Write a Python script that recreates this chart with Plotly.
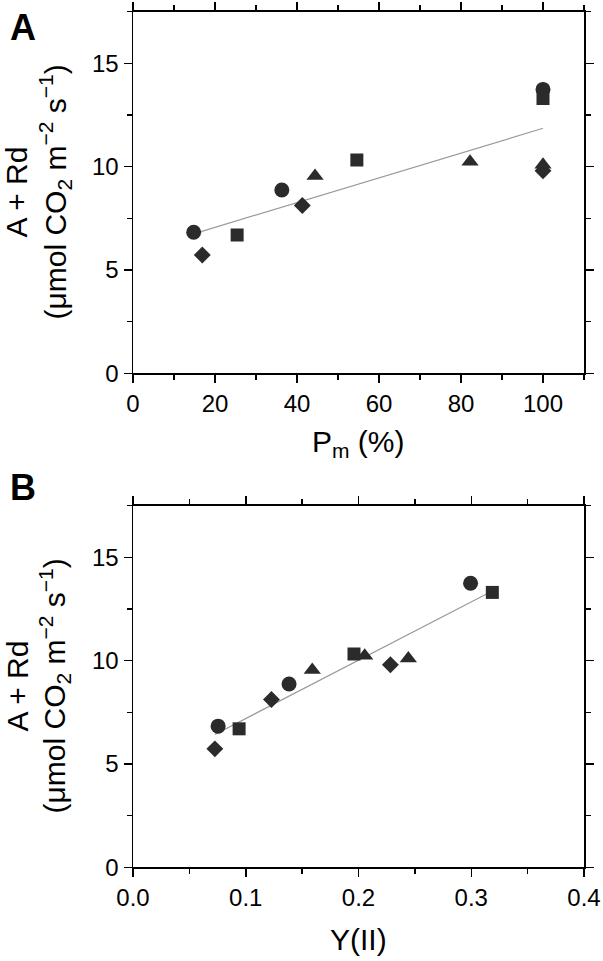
import numpy as np
import plotly.graph_objects as go

# ---- data ----
symbols = ["circle", "square", "diamond", "triangle-up"]

# Panel A: Pm (%) vs A + Rd
pm_circle = [14.8, 36.3, 100.0]
pm_square = [25.4, 54.6, 100.0]
pm_diamond = [16.9, 41.3, 100.0]
pm_triangle = [44.4, 82.2, 100.0]

# Panel B: Y(II) vs A + Rd
y2_circle = [0.0755, 0.1384, 0.2994]
y2_square = [0.0941, 0.1960, 0.3187]
y2_diamond = [0.0726, 0.1228, 0.2283]
y2_triangle = [0.1590, 0.2055, 0.2442]

# A + Rd (shared by both panels)
ard_circle = [6.83, 8.87, 13.74]
ard_square = [6.70, 10.32, 13.30]
ard_diamond = [5.73, 8.12, 9.80]
ard_triangle = [9.55, 10.24, 10.10]

y_ticks = [0, 5, 10, 15]
xa_ticks = [0, 20, 40, 60, 80, 100]
xb_ticks = [0.0, 0.1, 0.2, 0.3, 0.4]
xb_ticklabels = ["0.0", "0.1", "0.2", "0.3", "0.4"]

# ---- styling ----
W, H = 603, 961
FONT = "Liberation Sans, Arial, sans-serif"
MK = "#2b2b2b"
sizes = {"circle": 15, "square": 13, "diamond": 13, "triangle-up": 15}

XL, XR = 133, 584
yA_dom = [1 - 373.4 / H, 1 - 11.7 / H]
yB_dom = [1 - 867.3 / H, 1 - 505.6 / H]

fig = go.Figure()

groupsA = [(pm_circle, ard_circle), (pm_square, ard_square),
           (pm_diamond, ard_diamond), (pm_triangle, ard_triangle)]
groupsB = [(y2_circle, ard_circle), (y2_square, ard_square),
           (y2_diamond, ard_diamond), (y2_triangle, ard_triangle)]


def add_panel(groups, xa, ya):
    allx, ally = [], []
    for sym, (xs, ys) in zip(symbols, groups):
        allx += xs
        ally += ys
    # linear regression line over data range
    k, b = np.polyfit(allx, ally, 1)
    xl = np.array([min(allx), max(allx)])
    fig.add_trace(go.Scatter(x=xl, y=k * xl + b, mode="lines",
                             line=dict(color="#9a9a9a", width=1.2),
                             xaxis=xa, yaxis=ya, showlegend=False,
                             hoverinfo="skip"))
    for sym, (xs, ys) in zip(symbols, groups):
        fig.add_trace(go.Scatter(x=xs, y=ys, mode="markers",
                                 marker=dict(symbol=sym, size=sizes[sym],
                                             color=MK, line=dict(width=0)),
                                 xaxis=xa, yaxis=ya, showlegend=False))


add_panel(groupsA, "x", "y")
add_panel(groupsB, "x2", "y2")

axis_common = dict(
    showline=True, linecolor="black", linewidth=1.5, mirror="ticks",
    ticks="outside", ticklen=8, tickwidth=1.5, tickcolor="black",
    showgrid=False, zeroline=False, automargin=False,
    tickfont=dict(family=FONT, size=24, color="black"),
)


def minor(dt):
    return dict(dtick=dt, tick0=0, ticks="outside", ticklen=5,
                tickwidth=1.5, tickcolor="black", showgrid=False)


fig.update_layout(
    template="none",
    width=W, height=H,
    margin=dict(l=0, r=0, t=0, b=0, pad=0),
    paper_bgcolor="white", plot_bgcolor="white",
    font=dict(family=FONT, color="black"),
    xaxis=dict(domain=[XL / W, XR / W], anchor="y", range=[0, 110],
               tickmode="array", tickvals=xa_ticks, minor=minor(10),
               **axis_common),
    yaxis=dict(domain=yA_dom, anchor="x", range=[0, 17.5],
               tickmode="array", tickvals=y_ticks, minor=minor(2.5),
               **axis_common),
    xaxis2=dict(domain=[XL / W, XR / W], anchor="y2", range=[0, 0.4],
                tickmode="array", tickvals=xb_ticks, ticktext=xb_ticklabels,
                minor=minor(0.05), **axis_common),
    yaxis2=dict(domain=yB_dom, anchor="x2", range=[0, 17.5],
                tickmode="array", tickvals=y_ticks, minor=minor(2.5),
                **axis_common),
)

ann = []
TF = dict(family=FONT, size=30, color="black")
xc = (XL + XR) / 2 / W
# x-axis titles
ann.append(dict(text="P<sub>m</sub> (%)", x=xc, y=1 - 443 / H, xref="paper",
                yref="paper", showarrow=False, font=TF,
                xanchor="center", yanchor="middle"))
ann.append(dict(text="Y(II)", x=xc, y=1 - 939 / H, xref="paper",
                yref="paper", showarrow=False, font=TF,
                xanchor="center", yanchor="middle"))
# y-axis titles (two lines)
for yc in [(373.4 + 11.7) / 2, (867.3 + 505.6) / 2]:
    ann.append(dict(text="A + Rd", x=17 / W, y=1 - yc / H, xref="paper",
                    yref="paper", showarrow=False, font=TF, textangle=-90,
                    xanchor="center", yanchor="middle"))
    ann.append(dict(text="(μmol CO<sub>2</sub> m<sup>−2</sup> s<sup>−1</sup>)",
                    x=55 / W, y=1 - yc / H, xref="paper", yref="paper",
                    showarrow=False, font=TF, textangle=-90,
                    xanchor="center", yanchor="middle"))
# panel letters
ann.append(dict(text="<b>A</b>", x=23 / W, y=1 - 28 / H, xref="paper",
                yref="paper", showarrow=False,
                font=dict(family=FONT, size=36, color="black"),
                xanchor="center", yanchor="middle"))
ann.append(dict(text="<b>B</b>", x=23 / W, y=1 - 488 / H, xref="paper",
                yref="paper", showarrow=False,
                font=dict(family=FONT, size=36, color="black"),
                xanchor="center", yanchor="middle"))
fig.update_layout(annotations=ann)

fig.write_html(
    "out.html",
    config={"displayModeBar": False, "staticPlot": True},
    post_script="document.body.style.margin='0';"
                "document.body.style.overflow='hidden';",
)
